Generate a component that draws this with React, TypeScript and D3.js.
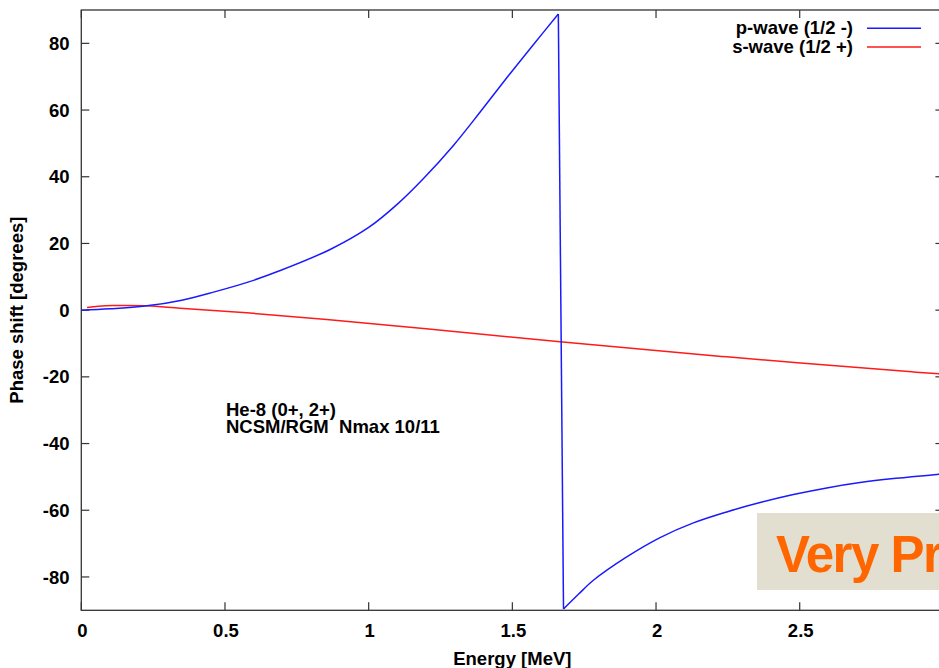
import React from "react";
import * as d3 from "d3";

const pEnergy = [0, 0.1, 0.228, 0.35, 0.46, 0.58, 0.69, 0.866, 1.0, 1.1, 1.19, 1.295, 1.388, 1.48, 1.573, 1.66, 1.678, 1.73, 1.782, 1.898, 2.014, 2.13, 2.246, 2.362, 2.478, 2.594, 2.71, 2.826, 2.9, 3.0];
const pPhase = [0, 0.4, 1.3, 3.0, 5.4, 8.4, 11.8, 18.2, 24.8, 31.8, 39.4, 49.4, 59.4, 69.6, 79.6, 88.8, -89.6, -85.2, -81, -74, -68.2, -63.8, -60.5, -57.7, -55.3, -53.3, -51.7, -50.5, -49.9, -49.1];

const sEnergy = [0.02, 0.06, 0.11, 0.228, 0.344, 0.576, 0.854, 1.2, 1.666, 2.246, 2.89, 3.0];
const sPhase = [0.8, 1.2, 1.4, 1.3, 0.6, -0.8, -2.8, -5.6, -9.5, -14, -18.5, -19.2];

const xTicks = [0, 0.5, 1, 1.5, 2, 2.5, 3];
const yTicks = [-80, -60, -40, -20, 0, 20, 40, 60, 80];

const seriesNames = ["p-wave (1/2 -)", "s-wave (1/2 +)"];
const annotation = ["He-8 (0+, 2+)", "NCSM/RGM\u00a0\u00a0Nmax 10/11"];
const stamp = "Very Preliminary";

const W = 939;
const H = 668;
const left = 81.3;
const right = 943.4;
const top = 10;
const bottom = 610.3;

export default function App() {
  const x = d3.scaleLinear().domain([0, 3]).range([left, right]);
  const y = d3.scaleLinear().domain([-90, 90]).range([bottom, top]);
  const font = "'Liberation Sans', Arial, Helvetica, sans-serif";
  const fs = 18.5;

  const pPts: [number, number][] = pEnergy.map((e, i) => [e, pPhase[i]]);
  const sPts: [number, number][] = sEnergy.map((e, i) => [e, sPhase[i]]);
  // split p-wave at the phase wrap (+90 -> -90)
  const jump = pPts.findIndex((p, i) => i > 0 && p[1] - pPts[i - 1][1] < -90);
  const seg1 = pPts.slice(0, jump);
  const seg2 = [pPts[jump - 1], pPts[jump]];
  const seg3 = pPts.slice(jump);

  const smooth = d3
    .line<[number, number]>()
    .x((d) => x(d[0]))
    .y((d) => y(d[1]))
    .curve(d3.curveCatmullRom.alpha(0.5));
  const straight = d3
    .line<[number, number]>()
    .x((d) => x(d[0]))
    .y((d) => y(d[1]));

  const blue = "#1a1aff";
  const red = "#ff1a1a";
  const axisColor = "#333";
  const tickLen = 8;

  return (
    <svg
      width={W}
      height={H}
      style={{ position: "absolute", left: 0, top: 0, background: "#fff" }}
      fontFamily={font}
    >
      <defs>
        <clipPath id="plotclip">
          <rect x={left} y={top} width={right - left} height={bottom - top} />
        </clipPath>
      </defs>
      <rect x={0} y={0} width={W} height={H} fill="#fff" />

      {/* ticks */}
      {yTicks.map((t) => (
        <g key={"y" + t}>
          <line x1={left} x2={left + tickLen} y1={y(t)} y2={y(t)} stroke={axisColor} strokeWidth={1.2} />
          <line x1={right} x2={right - tickLen} y1={y(t)} y2={y(t)} stroke={axisColor} strokeWidth={1.2} />
          <text x={69.5} y={y(t) + 6.6} textAnchor="end" fontSize={fs} fontWeight="bold" fill="#000">
            {t}
          </text>
        </g>
      ))}
      {xTicks.map((t) => (
        <g key={"x" + t}>
          <line x1={x(t)} x2={x(t)} y1={bottom} y2={bottom - tickLen} stroke={axisColor} strokeWidth={1.2} />
          <line x1={x(t)} x2={x(t)} y1={top} y2={top + tickLen} stroke={axisColor} strokeWidth={1.2} />
          {x(t) < W - 8 && (
            <text x={x(t) + 1} y={bottom + 26.8} textAnchor="middle" fontSize={fs} fontWeight="bold" fill="#000">
              {t}
            </text>
          )}
        </g>
      ))}

      {/* border */}
      <rect
        x={left}
        y={top}
        width={right - left}
        height={bottom - top}
        fill="none"
        stroke={axisColor}
        strokeWidth={1.3}
      />

      {/* axis titles */}
      <text x={(left + right) / 2} y={665} textAnchor="middle" fontSize={fs} fontWeight="bold" fill="#000">
        Energy [MeV]
      </text>
      <text
        transform={`translate(22.5, ${(top + bottom) / 2}) rotate(-90)`}
        textAnchor="middle"
        fontSize={fs}
        fontWeight="bold"
        fill="#000"
      >
        Phase shift [degrees]
      </text>

      {/* curves */}
      <g clipPath="url(#plotclip)" fill="none" strokeWidth={1.5}>
        <path d={smooth(sPts) || ""} stroke={red} />
        <path d={smooth(seg1) || ""} stroke={blue} />
        <path d={straight(seg2) || ""} stroke={blue} />
        <path d={smooth(seg3) || ""} stroke={blue} />
      </g>

      {/* legend */}
      {seriesNames.map((name, i) => (
        <g key={name}>
          <text x={853} y={34 + i * 18.6} textAnchor="end" fontSize={fs} fontWeight="bold" fill="#000">
            {name}
          </text>
          <line
            x1={867}
            x2={921}
            y1={28.3 + i * 18.6}
            y2={28.3 + i * 18.6}
            stroke={i === 0 ? blue : red}
            strokeWidth={1.5}
          />
        </g>
      ))}

      {/* annotation */}
      {annotation.map((s, i) => (
        <text key={s} x={226} y={416 + i * 17} fontSize={fs} fontWeight="bold" fill="#000">
          {s}
        </text>
      ))}

      {/* stamp */}
      <rect x={757} y={513} width={260} height={77} fill="#e2dfd0" />
      <text x={776} y={572} fontSize={51} fontWeight="bold" fill="#ff6600" letterSpacing={-1.5}>
        {stamp}
      </text>
    </svg>
  );
}
